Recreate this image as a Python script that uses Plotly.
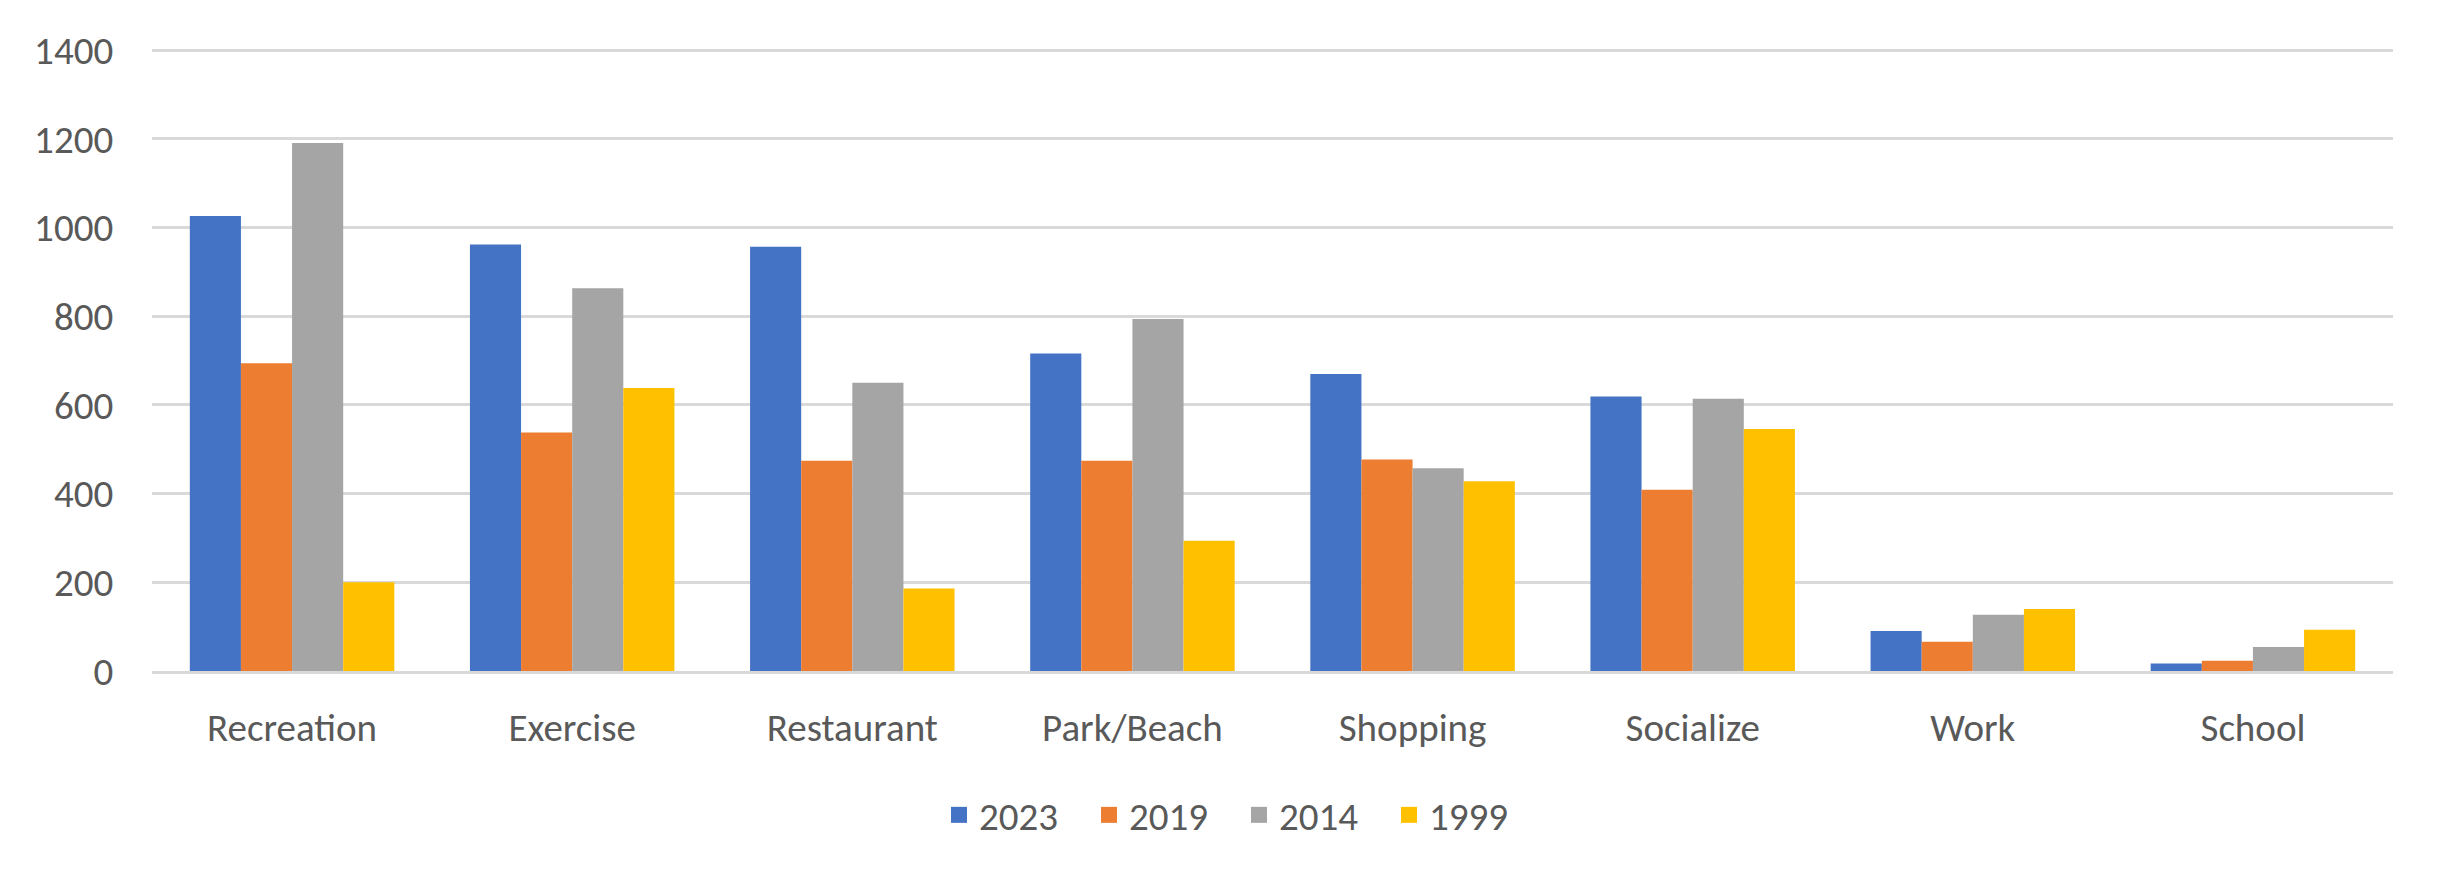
import plotly.graph_objects as go

categories = ["Recreation", "Exercise", "Restaurant", "Park/Beach", "Shopping", "Socialize", "Work", "School"]
years = ["2023", "2019", "2014", "1999"]
v2023 = [1026, 962, 957, 716, 670, 619, 90, 17]
v2019 = [694, 538, 474, 474, 477, 409, 66, 23]
v2014 = [1191, 863, 650, 794, 457, 614, 127, 54]
v1999 = [200, 638, 186, 294, 428, 546, 140, 93]
series = [v2023, v2019, v2014, v1999]
colors = ["#4472C4", "#ED7D31", "#A5A5A5", "#FFC000"]
y_ticks = [0, 200, 400, 600, 800, 1000, 1200, 1400]

FONT = "Carlito, Calibri, Lato, sans-serif"
TXT = "#595959"
GRID = "#D9D9D9"
FS = 39

fig = go.Figure()
for name, vals, col in zip(years, series, colors):
    fig.add_trace(go.Bar(x=categories, y=vals, name=name, marker=dict(color=col, line=dict(width=0)),
                         showlegend=False))
for name, col in zip(years, colors):
    fig.add_trace(go.Scatter(x=[None], y=[None], mode="markers", name=name,
                             marker=dict(symbol="square", size=22, color=col), showlegend=True))

fig.update_layout(
    width=2439, height=882,
    margin=dict(l=152, r=46, t=48, b=211),
    paper_bgcolor="white", plot_bgcolor="white",
    barmode="group", bargap=0.27, bargroupgap=0,
    font=dict(family=FONT, size=FS, color=TXT),
    legend=dict(orientation="h", xref="container", yref="container",
                x=0.508, xanchor="center", y=1 - 815 / 882, yanchor="middle",
                font=dict(family=FONT, size=FS, color=TXT),
                entrywidth=105, itemwidth=30, bgcolor="rgba(0,0,0,0)"),
    xaxis=dict(showgrid=False, showline=True, linecolor=GRID, linewidth=3,
               ticks="outside", ticklen=20, tickcolor="rgba(0,0,0,0)",
               tickfont=dict(family=FONT, size=FS, color=TXT), fixedrange=True),
    yaxis=dict(range=[0, 1405], tickvals=y_ticks, showgrid=True, gridcolor=GRID, gridwidth=3,
               zeroline=False, showline=False,
               ticks="outside", ticklen=30, tickcolor="rgba(0,0,0,0)",
               tickfont=dict(family=FONT, size=FS, color=TXT), fixedrange=True),
)

fig.write_html("out.html", config={"displayModeBar": False},
               post_script="document.body.style.margin='0px';document.body.style.overflow='hidden';")
